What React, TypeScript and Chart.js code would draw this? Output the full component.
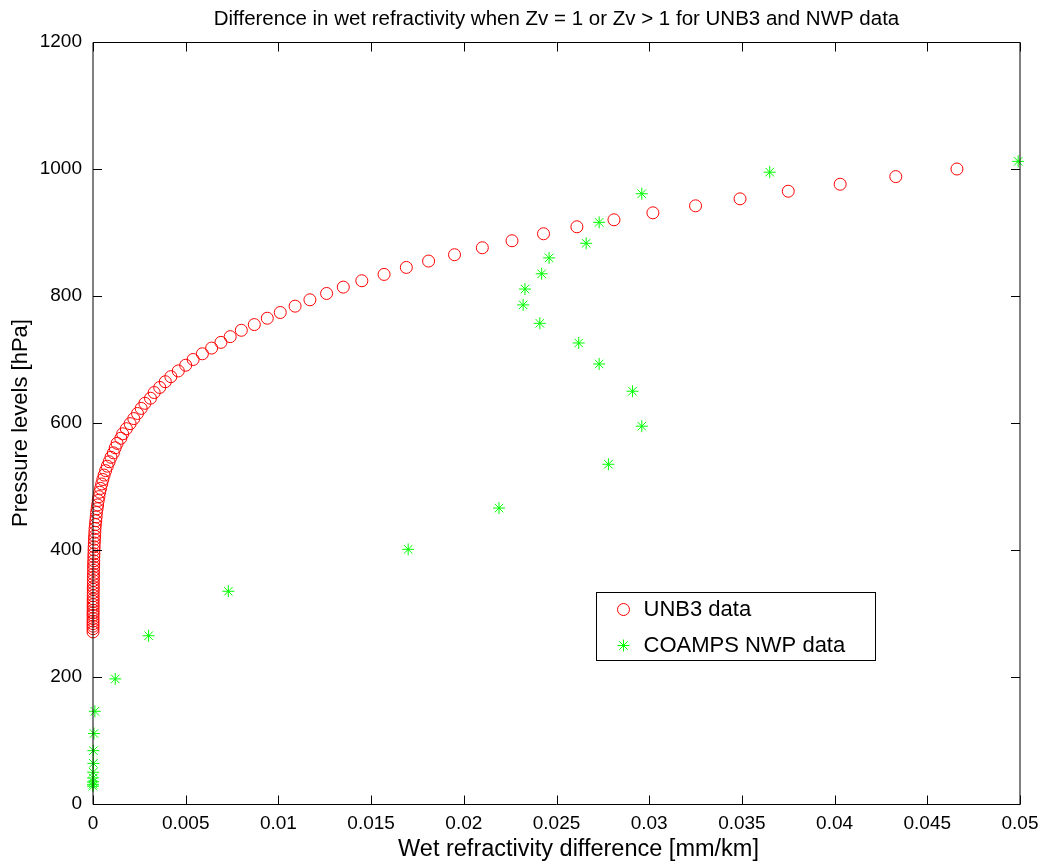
import React, { useEffect, useRef } from 'react';
import { Chart, registerables } from 'chart.js';

Chart.register(...registerables);

const titleText = 'Difference in wet refractivity when Zv = 1 or Zv > 1 for UNB3 and NWP data';
const xAxisLabel = 'Wet refractivity difference [mm/km]';
const yAxisLabel = 'Pressure levels [hPa]';

const xTicks = [0, 0.005, 0.01, 0.015, 0.02, 0.025, 0.03, 0.035, 0.04, 0.045, 0.05];
const xTickLabels = ['0', '0.005', '0.01', '0.015', '0.02', '0.025', '0.03', '0.035', '0.04', '0.045', '0.05'];
const yTicks = [0, 200, 400, 600, 800, 1000, 1200];
const yTickLabels = ['0', '200', '400', '600', '800', '1000', '1200'];

const unb3Pressure = [
  1000, 988, 976, 965, 953, 942, 931, 920, 909, 898,
  887, 876, 865, 855, 845, 834, 824, 814, 804, 794,
  784, 774, 765, 755, 746, 736, 727, 718, 709, 700,
  691, 682, 673, 665, 656, 648, 639, 631, 623, 615,
  607, 599, 591, 583, 576, 568, 561, 553, 546, 539,
  532, 525, 518, 511, 504, 497, 491, 484, 478, 471,
  465, 459, 452, 446, 440, 434, 428, 422, 417, 411,
  405, 400, 394, 389, 383, 378, 373, 368, 362, 357,
  352, 347, 342, 338, 333, 328, 323, 319, 314, 310,
  305, 301, 297, 292, 288, 284, 280, 276, 271,
];

const unb3Diff = [
  0.0466, 0.0433, 0.0403, 0.0375, 0.0349, 0.0325, 0.0302, 0.0281, 0.0261, 0.0243,
  0.0226, 0.0210, 0.0195, 0.0181, 0.0169, 0.0157, 0.0145, 0.0135, 0.0126, 0.0117,
  0.0109, 0.0101, 0.0094, 0.0087, 0.0080, 0.0074, 0.0069, 0.0064, 0.0059, 0.0054,
  0.0050, 0.0046, 0.0042, 0.0039, 0.0036, 0.0033, 0.0031, 0.0028, 0.0026, 0.0024,
  0.0022, 0.0020, 0.0018, 0.0016, 0.0015, 0.0013, 0.0012, 0.0011, 0.00097, 0.00087,
  0.00077, 0.00068, 0.0006, 0.00053, 0.00047, 0.00041, 0.00036, 0.00032, 0.00028, 0.00025,
  0.00022, 0.00019, 0.00017, 0.00015, 0.00013, 0.00011, 0.0001, 0.00009, 0.00008, 0.00007,
  0.00006, 0.000055, 0.00005, 0.000045, 0.00004, 0.000036, 0.000032, 0.000029, 0.000026, 0.000023,
  0.00002, 0.000018, 0.000016, 0.000014, 0.000012, 0.000011, 0.00001, 0.000009, 0.000008, 0.000007,
  0.000006, 0.000005, 0.000005, 0.000004, 0.000004, 0.000003, 0.000003, 0.000002, 0.000002,
];

const coampsPressure = [
  1012, 995, 961, 916, 883, 860, 835, 811, 786, 757,
  726, 693, 650, 595, 535, 466, 401, 335, 265, 197,
  146, 111, 84, 64, 50, 41, 35, 31, 28,
];

const coampsDiff = [
  0.0499, 0.0365, 0.0296, 0.0273, 0.0266, 0.0246, 0.0242, 0.0233, 0.0232, 0.0241,
  0.0262, 0.0273, 0.0291, 0.0296, 0.0278, 0.0219, 0.0170, 0.0073, 0.0030, 0.0012,
  0.0001, 0.00005, 0.00002, 0.00002, 0.00001, 0.00001, 0, 0, 0,
];

const FONT = "'Liberation Sans', Arial, Helvetica, sans-serif";

const framePlugin = {
  id: 'matlabFrame',
  afterDatasetsDraw(chart: any) {
    const { ctx, chartArea } = chart;
    const { left, right, top, bottom } = chartArea;
    const xs = chart.scales.x;
    const ys = chart.scales.y;
    const tl = 9;
    ctx.save();
    ctx.strokeStyle = '#000';
    ctx.lineWidth = 1;
    ctx.beginPath();
    const t = Math.round(top) + 0.5;
    const b = Math.round(bottom) + 0.5;
    const l = Math.round(left);
    const r = Math.round(right);
    ctx.moveTo(l, t); ctx.lineTo(r, t);
    ctx.moveTo(l, b); ctx.lineTo(r, b);
    ctx.moveTo(l, t); ctx.lineTo(l, b);
    ctx.moveTo(r, t); ctx.lineTo(r, b);
    xTicks.forEach((v) => {
      const px = Math.round(xs.getPixelForValue(v)) + 0.5;
      ctx.moveTo(px, b); ctx.lineTo(px, b - tl);
      ctx.moveTo(px, t); ctx.lineTo(px, t + tl);
    });
    yTicks.forEach((v) => {
      const py = Math.round(ys.getPixelForValue(v)) + 0.5;
      ctx.moveTo(l, py); ctx.lineTo(l + tl, py);
      ctx.moveTo(r, py); ctx.lineTo(r - tl, py);
    });
    ctx.stroke();
    ctx.restore();
  },
};

const textPlugin = {
  id: 'matlabTexts',
  afterDraw(chart: any) {
    const { ctx, chartArea } = chart;
    const cx = (chartArea.left + chartArea.right) / 2;
    ctx.save();
    ctx.fillStyle = '#000';
    ctx.textAlign = 'center';
    ctx.textBaseline = 'middle';
    ctx.font = `20.5px ${FONT}`;
    ctx.fillText(titleText, cx, 19);
    ctx.font = `23.5px ${FONT}`;
    ctx.fillText(xAxisLabel, cx + 22, chartArea.bottom + 46);
    ctx.restore();
  },
};

const legendPlugin = {
  id: 'matlabLegend',
  afterDraw(chart: any) {
    const { ctx, chartArea } = chart;
    const bx = Math.round(chartArea.left + 503) + 0.5;
    const by = Math.round(chartArea.top + 550) + 0.5;
    const bw = 279;
    const bh = 68;
    ctx.save();
    ctx.fillStyle = '#fff';
    ctx.fillRect(bx, by, bw, bh);
    ctx.strokeStyle = '#000';
    ctx.lineWidth = 1;
    ctx.strokeRect(bx, by, bw, bh);
    const mx = bx + 27;
    const y1 = by + 17;
    const y2 = by + 53;
    ctx.strokeStyle = '#ff0000';
    ctx.beginPath();
    ctx.arc(mx, y1, 6, 0, Math.PI * 2);
    ctx.stroke();
    ctx.strokeStyle = '#00ff00';
    ctx.beginPath();
    const r = 6;
    const d = r * Math.SQRT1_2;
    ctx.moveTo(mx - r, y2); ctx.lineTo(mx + r, y2);
    ctx.moveTo(mx, y2 - r); ctx.lineTo(mx, y2 + r);
    ctx.moveTo(mx - d, y2 - d); ctx.lineTo(mx + d, y2 + d);
    ctx.moveTo(mx - d, y2 + d); ctx.lineTo(mx + d, y2 - d);
    ctx.stroke();
    ctx.fillStyle = '#000';
    ctx.font = `22px ${FONT}`;
    ctx.textBaseline = 'middle';
    ctx.textAlign = 'left';
    ctx.fillText('UNB3 data', bx + 47, y1);
    ctx.fillText('COAMPS NWP data', bx + 47, y2);
    ctx.restore();
  },
};

export default function App() {
  const ref = useRef<HTMLCanvasElement>(null);
  useEffect(() => {
    document.body.style.margin = '0';
    const canvas = ref.current!;
    const chart = new Chart(canvas, {
      type: 'scatter',
      data: {
        datasets: [
          {
            label: 'UNB3 data',
            data: unb3Diff.map((x, i) => ({ x, y: unb3Pressure[i] })),
            pointStyle: 'circle',
            pointRadius: 6,
            pointBorderWidth: 1,
            pointBorderColor: '#ff0000',
            pointBackgroundColor: 'rgba(0,0,0,0)',
            showLine: false,
            order: 2,
            clip: false,
          },
          {
            label: 'COAMPS NWP data',
            data: coampsDiff.map((x, i) => ({ x, y: coampsPressure[i] })),
            pointStyle: 'star',
            pointRadius: 6,
            pointBorderWidth: 1,
            pointBorderColor: '#00ff00',
            pointBackgroundColor: '#00ff00',
            showLine: false,
            order: 1,
            clip: false,
          },
        ],
      },
      options: {
        responsive: false,
        animation: false,
        events: [],
        layout: { padding: { left: 0, right: 18, top: 42, bottom: 0 } },
        plugins: {
          legend: { display: false },
          tooltip: { enabled: false },
          title: { display: false },
        },
        scales: {
          x: {
            type: 'linear',
            min: 0,
            max: 0.05,
            afterBuildTicks: (s: any) => {
              s.ticks = xTicks.map((v) => ({ value: v }));
            },
            afterFit: (s: any) => {
              s.height = 62;
              s.paddingRight = 0;
              s.paddingLeft = 0;
            },
            ticks: {
              callback: (_v: any, i: number) => xTickLabels[i],
              color: '#000',
              font: { family: FONT, size: 19 },
              padding: 8,
              maxRotation: 0,
              autoSkip: false,
            },
            grid: { display: false, drawTicks: false },
            border: { display: false },
            title: { display: false },
          },
          y: {
            type: 'linear',
            min: 0,
            max: 1200,
            afterBuildTicks: (s: any) => {
              s.ticks = yTicks.map((v) => ({ value: v }));
            },
            afterFit: (s: any) => {
              s.width = 93;
              s.paddingTop = 0;
              s.paddingBottom = 0;
            },
            ticks: {
              callback: (_v: any, i: number) => yTickLabels[i],
              color: '#000',
              font: { family: FONT, size: 19 },
              padding: 11,
              autoSkip: false,
            },
            grid: { display: false, drawTicks: false },
            border: { display: false },
            title: {
              display: true,
              text: yAxisLabel,
              color: '#000',
              font: { family: FONT, size: 22 },
              padding: { top: 8, bottom: 0 },
            },
          },
        },
      },
      plugins: [framePlugin, legendPlugin, textPlugin],
    } as any);
    return () => chart.destroy();
  }, []);
  return (
    <div style={{ width: 1038, height: 866 }}>
      <canvas ref={ref} width={1038} height={866} />
    </div>
  );
}
